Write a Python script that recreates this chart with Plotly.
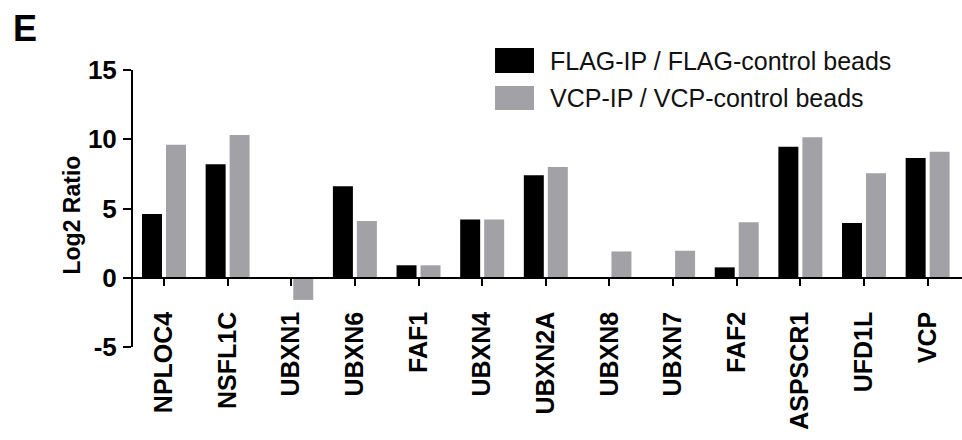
import plotly.graph_objects as go

# Log2 enrichment of VCP cofactors in two pull-down experiments
proteins = ["NPLOC4", "NSFL1C", "UBXN1", "UBXN6", "FAF1", "UBXN4", "UBXN2A",
            "UBXN8", "UBXN7", "FAF2", "ASPSCR1", "UFD1L", "VCP"]
flag_ratio = [4.6, 8.2, 0.0, 6.6, 0.9, 4.2, 7.4, 0.0, 0.0, 0.75, 9.45, 3.95, 8.65]
vcp_ratio = [9.6, 10.3, -1.6, 4.1, 0.9, 4.2, 8.0, 1.9, 1.95, 4.0, 10.15, 7.55, 9.1]
series_names = ["FLAG-IP / FLAG-control beads", "VCP-IP / VCP-control beads"]
y_ticks = [-5, 0, 5, 10, 15]

BLACK = "#000000"
GREY = "#a2a2a6"
FONT = "Liberation Sans, Arial, sans-serif"

y_min, y_max = y_ticks[0], y_ticks[-1]

fig = go.Figure()
fig.add_trace(go.Bar(x=proteins, y=flag_ratio, name=series_names[0],
                     marker=dict(color=BLACK, line=dict(width=0)), showlegend=False))
fig.add_trace(go.Bar(x=proteins, y=vcp_ratio, name=series_names[1],
                     marker=dict(color=GREY, line=dict(width=0)), showlegend=False))

# legend drawn as large swatches with labels at the top of the plot
legend_rows = [(BLACK, 1.0794, 0.989, 1.0335), (GREY, 0.942, 0.8556, 0.899)]
for (col, y_top, y_bot, y_txt), name in zip(legend_rows, series_names):
    fig.add_shape(type="rect", xref="paper", yref="paper",
                  x0=0.4367, x1=0.4837, y0=y_bot, y1=y_top,
                  fillcolor=col, line=dict(width=0), layer="above")
    fig.add_annotation(xref="paper", yref="paper", x=0.5006, y=y_txt,
                       xanchor="left", yanchor="middle", showarrow=False,
                       text=name, font=dict(family=FONT, size=25, color="#111111"))

# panel letter
fig.add_annotation(xref="paper", yref="paper", x=-0.147, y=1.15,
                   xanchor="left", yanchor="middle", showarrow=False,
                   text="<b>E</b>", font=dict(family=FONT, size=36, color="black"))

# y-axis title, set slightly below the middle of the axis
fig.add_annotation(xref="paper", yref="paper", x=-0.0735, y=0.475,
                   xanchor="center", yanchor="middle", showarrow=False,
                   textangle=-90, text="<b>Log2 Ratio</b>",
                   font=dict(family=FONT, size=23, color="black"))

fig.update_layout(
    width=962, height=440,
    margin=dict(l=133, r=0, t=70, b=93, autoexpand=False),
    paper_bgcolor="white", plot_bgcolor="white",
    barmode="group", bargap=0.246, bargroupgap=0.167,
    font=dict(family=FONT, color="black"),
    showlegend=False,
)

fig.update_xaxes(
    type="category", range=[-0.487, 12.54],
    anchor="free", position=(0 - y_min) / (y_max - y_min),
    showline=True, linecolor="black", linewidth=2,
    ticks="outside", ticklen=7, tickwidth=2, tickcolor="black",
    tickangle=-90, ticklabelstandoff=16,
    tickfont=dict(family=FONT, size=25, weight="bold", color="black"),
    showgrid=False, zeroline=False, automargin=False,
)
fig.update_yaxes(
    range=[y_min, y_max], tickvals=y_ticks,
    ticktext=[str(v) for v in y_ticks],
    showline=True, linecolor="black", linewidth=2,
    ticks="outside", ticklen=8, tickwidth=2, tickcolor="black",
    ticklabelstandoff=1,
    tickfont=dict(family=FONT, size=26, weight="bold", color="black"),
    showgrid=False, zeroline=False, automargin=False,
)

fig.write_html("out.html")
